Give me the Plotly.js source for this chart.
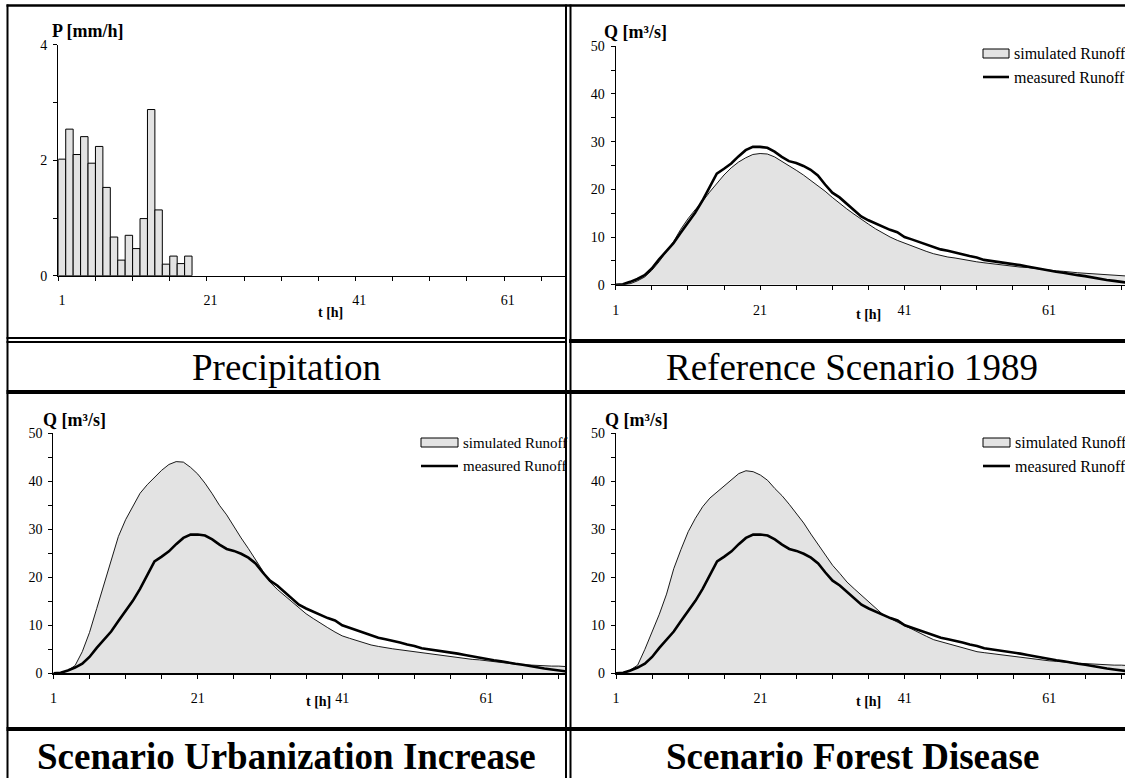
<!DOCTYPE html>
<html>
<head>
<meta charset="utf-8">
<script src="https://cdn.plot.ly/plotly-3.0.1.min.js"></script>
<style>
html,body{margin:0;padding:0;background:#fff;overflow:hidden}
#chart{width:1125px;height:778px}
</style>
</head>
<body>
<div id="chart"></div>
<script>
// ---------------- DATA ----------------
const precipHours = [1,2,3,4,5,6,7,8,9,10,11,12,13,14,15,16,17,18];
const precipValues = [2.02,2.54,2.10,2.41,1.95,2.24,1.53,0.67,0.27,0.70,0.47,0.99,2.88,1.14,0.20,0.34,0.21,0.34];

const hours = [1,2,3,4,5,6,7,8,9,10,11,12,13,14,15,16,17,18,19,20,21,22,23,24,25,26,27,28,29,30,31,32,33,34,35,36,
  37,38,39,40,41,42,43,44,45,46,47,48,49,50,51,52,53,54,55,56,57,58,59,60,61,62,63,64,65,66,67,68,69,70,71,72];

const measuredRunoff = [0,0.1,0.6,1.2,2.0,3.4,5.3,7.0,8.7,10.9,
  13.0,15.1,17.6,20.5,23.3,24.3,25.4,26.9,28.2,28.9,
  28.9,28.7,27.9,26.8,25.9,25.5,24.9,24.1,22.9,21.0,
  19.3,18.3,17.0,15.7,14.3,13.5,12.8,12.1,11.5,11.0,
  10.0,9.5,9.0,8.5,8.0,7.4,7.1,6.8,6.4,6.0,
  5.7,5.2,5.0,4.7,4.5,4.3,4.1,3.8,3.5,3.2,
  2.9,2.7,2.5,2.2,2.0,1.8,1.5,1.3,1.0,0.8,
  0.6,0.4];

const simReference = [0,0,0.2,0.8,1.6,3.0,4.8,6.8,9.0,11.6,
  13.8,15.7,17.4,19.4,21.3,23.0,24.5,25.7,26.6,27.3,
  27.5,27.4,26.8,25.9,25.0,24.0,23.0,21.9,20.8,19.6,
  18.3,17.0,15.9,14.8,13.7,12.7,11.7,10.8,10.0,9.3,
  8.7,8.1,7.5,7.0,6.5,6.1,5.8,5.6,5.3,5.0,
  4.8,4.6,4.4,4.3,4.1,3.9,3.7,3.6,3.4,3.3,
  3.1,2.9,2.8,2.6,2.5,2.4,2.3,2.2,2.1,2.0,
  1.9,1.8];

const simUrbanization = [0,0.1,0.6,1.6,4.5,8.5,13.5,18.5,23.5,28.5,
  32.0,34.8,37.5,39.3,40.8,42.3,43.5,44.1,44.0,42.9,
  41.5,39.6,37.4,35.0,33.0,30.5,28.2,26.0,23.6,21.2,
  19.0,17.5,16.2,14.8,13.5,12.4,11.4,10.4,9.5,8.6,
  7.8,7.3,6.8,6.3,5.9,5.6,5.3,5.1,4.9,4.7,
  4.5,4.3,4.0,3.8,3.6,3.5,3.3,3.1,2.9,2.8,
  2.6,2.4,2.3,2.1,1.9,1.8,1.7,1.6,1.6,1.5,
  1.5,1.4];

const simForest = [0,0.1,0.7,1.7,5.0,8.5,12.3,16.5,21.8,25.8,
  29.5,32.3,34.7,36.5,37.8,39.2,40.5,41.6,42.2,42.0,
  41.3,40.2,38.5,37.0,35.2,33.3,31.3,29.0,26.8,24.5,
  22.5,20.8,19.0,17.6,16.3,14.9,13.5,12.2,11.4,10.6,
  9.9,9.2,8.4,7.7,7.0,6.6,6.1,5.7,5.3,4.9,
  4.5,4.3,4.1,3.9,3.7,3.5,3.3,3.1,2.9,2.8,
  2.6,2.5,2.3,2.2,2.1,2.0,1.9,1.8,1.7,1.7,
  1.7,1.6];

const xTickVals = [1,21,41,61];
const xTickText = ['1','21','41','61'];
const pTickVals = [0,2,4];
const pTickText = ['0','2','4'];
const qTickVals = [0,10,20,30,40,50];
const qTickText = ['0','10','20','30','40','50'];

const captions = ['Precipitation','Reference Scenario 1989','Scenario Urbanization Increase','Scenario Forest Disease'];
const legendNames = ['simulated Runoff','measured Runoff'];
const pLabel = 'P [mm/h]';
const qLabel = 'Q [m³/s]';
const tLabel = 't [h]';

// ---------------- LAYOUT HELPERS ----------------
const W = 1125, H = 778;
const FX = x => x / W;
const FY = y => 1 - y / H;
const FONT = 'Liberation Serif, Times New Roman, serif';
const GRAY = '#e3e3e3';

const panels = [
  {x0:58.3, xEnd:565, yTop:44.9, yBot:275.7, ppc:7.43, bar:true},
  {x0:615.7, xEnd:1125, yTop:46.2, yBot:284.7, ppc:7.22},
  {x0:53.4, xEnd:565, yTop:433.3, yBot:673.3, ppc:7.22},
  {x0:616, xEnd:1125, yTop:433.3, yBot:673.3, ppc:7.22}
];

const tickFont = {family:FONT, size:14, color:'#000'};

function makeX(p, i) {
  const start = p.bar ? 0.5 : 1;
  const end = start + (p.xEnd - p.x0) / p.ppc;
  return {
    domain:[FX(p.x0), FX(p.xEnd)], range:[start, end], anchor: i===0 ? 'y' : 'y' + (i+1),
    showline:true, linecolor:'#000', linewidth:1.2, showgrid:false, zeroline:false,
    tickmode:'array', tickvals:xTickVals, ticktext:xTickText,
    ticks: p.bar ? '' : 'outside', ticklen:4, tickcolor:'#000', tickwidth:1,
    tickfont:tickFont, ticklabelstandoff: p.bar ? 11 : 8,
    minor:{tickmode:'linear', tick0:start, dtick:5, ticks:'outside', ticklen:4, tickcolor:'#000', tickwidth:1, showgrid:false},
    fixedrange:true
  };
}
function makeY(p, i) {
  const isP = !!p.bar;
  return {
    domain:[FY(p.yBot), FY(p.yTop)], range: isP ? [0,4] : [0,50], anchor: i===0 ? 'x' : 'x' + (i+1),
    showline:true, linecolor:'#000', linewidth:1.2, showgrid:false, zeroline:false,
    tickmode:'array', tickvals: isP ? pTickVals : qTickVals, ticktext: isP ? pTickText : qTickText,
    ticks:'outside', ticklen:4, tickcolor:'#000', tickwidth:1,
    tickfont:tickFont, ticklabelstandoff:3,
    minor:{tickmode:'linear', tick0:0, dtick: isP ? 1 : 5, ticks:'outside', ticklen:4, tickcolor:'#000', tickwidth:1, showgrid:false},
    fixedrange:true
  };
}

// ---------------- TRACES ----------------
const sims = [simReference, simUrbanization, simForest];
const traces = [{
  type:'bar', x:precipHours, y:precipValues, width:1,
  marker:{color:GRAY, line:{color:'#000', width:1}},
  xaxis:'x', yaxis:'y', showlegend:false, hoverinfo:'skip'
}];
sims.forEach((s, k) => {
  const ax = k + 2;
  traces.push({type:'scatter', mode:'lines', x:hours, y:s, fill:'tozeroy', fillcolor:GRAY,
    line:{color:'#000', width:0.9}, xaxis:'x'+ax, yaxis:'y'+ax, showlegend:false, hoverinfo:'skip'});
  traces.push({type:'scatter', mode:'lines', x:hours, y:measuredRunoff,
    line:{color:'#000', width:2.6}, xaxis:'x'+ax, yaxis:'y'+ax, showlegend:false, hoverinfo:'skip'});
});

// ---------------- LAYOUT ----------------
const layout = {
  width:W, height:H, margin:{l:0,r:0,t:0,b:0, autoexpand:false},
  paper_bgcolor:'#fff', plot_bgcolor:'rgba(0,0,0,0)', showlegend:false,
  bargap:0, font:{family:FONT, color:'#000'},
  shapes:[], annotations:[]
};
panels.forEach((p, i) => {
  const s = i === 0 ? '' : String(i+1);
  layout['xaxis'+s] = makeX(p, i);
  layout['yaxis'+s] = makeY(p, i);
});

// table borders
function hline(y, x0, x1, w) { layout.shapes.push({type:'line', xref:'paper', yref:'paper', x0:FX(x0), x1:FX(x1), y0:FY(y), y1:FY(y), line:{color:'#000', width:w}}); }
function vline(x, y0, y1, w) { layout.shapes.push({type:'line', xref:'paper', yref:'paper', x0:FX(x), x1:FX(x), y0:FY(y0), y1:FY(y1), line:{color:'#000', width:w}}); }
hline(5.5, 6.5, 1125, 2.5);
hline(338, 6.5, 567, 2);
hline(342, 6.5, 567, 2);
hline(341, 569, 1125, 4);
hline(392, 6.5, 1125, 4);
hline(729, 6.5, 1125, 4);
vline(7.5, 4.5, 778, 2);
vline(566, 4.5, 778, 2);
vline(570.5, 4.5, 778, 2);

// legends (manual, Excel style)
const legendSpots = [
  {rx0:983, rx1:1009, ry:53.5, ly:77, tx:1012, fs:16},
  {rx0:421, rx1:458, ry:442.5, ly:466, tx:461, fs:15},
  {rx0:983, rx1:1010, ry:442.5, ly:466, tx:1013, fs:16}
];
legendSpots.forEach(L => {
  layout.shapes.push({type:'rect', xref:'paper', yref:'paper', x0:FX(L.rx0), x1:FX(L.rx1), y0:FY(L.ry+4.5), y1:FY(L.ry-4.5),
    fillcolor:GRAY, line:{color:'#000', width:1}});
  layout.shapes.push({type:'line', xref:'paper', yref:'paper', x0:FX(L.rx0), x1:FX(L.rx1), y0:FY(L.ly), y1:FY(L.ly),
    line:{color:'#000', width:2.6}});
  layout.annotations.push({xref:'paper', yref:'paper', x:FX(L.tx), y:FY(L.ry), xanchor:'left', yanchor:'middle',
    text:legendNames[0], showarrow:false, font:{family:FONT, size:L.fs, color:'#000'}});
  layout.annotations.push({xref:'paper', yref:'paper', x:FX(L.tx), y:FY(L.ly), xanchor:'left', yanchor:'middle',
    text:legendNames[1], showarrow:false, font:{family:FONT, size:L.fs, color:'#000'}});
});

// axis labels
const axisLabels = [
  {t:pLabel, x:50, y:31},
  {t:qLabel, x:602, y:32},
  {t:qLabel, x:41, y:420},
  {t:qLabel, x:603, y:420}
];
axisLabels.forEach(a => layout.annotations.push({xref:'paper', yref:'paper', x:FX(a.x), y:FY(a.y), xanchor:'left', yanchor:'middle',
  text:'<b>'+a.t+'</b>', showarrow:false, font:{family:FONT, size:18, color:'#000'}}));
const tLabels = [{x:330,y:313},{x:868,y:314},{x:318,y:701},{x:868,y:701}];
tLabels.forEach(a => layout.annotations.push({xref:'paper', yref:'paper', x:FX(a.x), y:FY(a.y), xanchor:'center', yanchor:'middle',
  text:'<b>'+tLabel+'</b>', showarrow:false, font:{family:FONT, size:14, color:'#000'}}));

// captions
const capPos = [{x:286,y:367,b:false},{x:852,y:367,b:false},{x:286,y:756,b:true},{x:852,y:756,b:true}];
capPos.forEach((c, i) => layout.annotations.push({xref:'paper', yref:'paper', x:FX(c.x), y:FY(c.y), xanchor:'center', yanchor:'middle',
  text: c.b ? '<b>'+captions[i]+'</b>' : captions[i], showarrow:false, font:{family:FONT, size:37, color:'#000'}}));

Plotly.newPlot('chart', traces, layout, {staticPlot:true, displayModeBar:false});
</script>
</body>
</html>
